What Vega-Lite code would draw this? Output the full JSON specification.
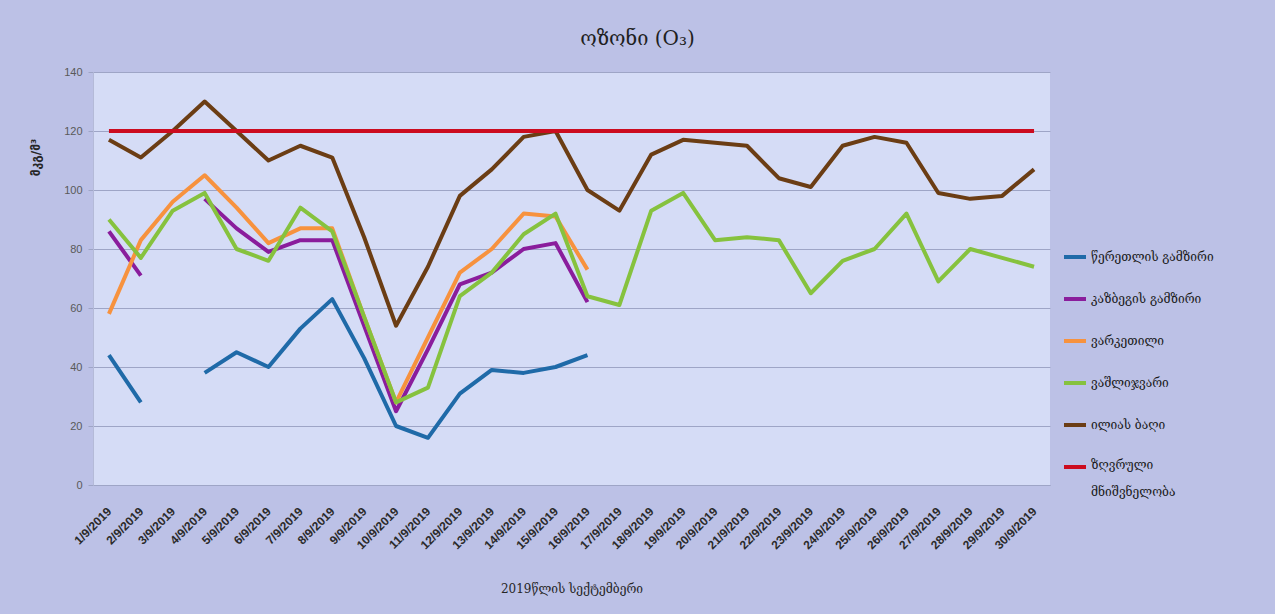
{
  "$schema": "https://vega.github.io/schema/vega-lite/v6.json",
  "width": 957,
  "height": 413,
  "autosize": {"type": "none"},
  "padding": {"left": 93, "top": 72, "right": 225, "bottom": 129},
  "background": "#bcc1e6",
  "title": {
    "text": "ოზონი (O₃)",
    "font": "DejaVu Serif",
    "fontSize": 20,
    "fontWeight": "normal",
    "color": "#1f1f1f",
    "anchor": "middle",
    "dx": 66,
    "offset": 17
  },
  "data": {
    "values": [
      {"date": "1/9/2019", "station": "წერეთლის გამზირი", "value": 44},
      {"date": "2/9/2019", "station": "წერეთლის გამზირი", "value": 28},
      {"date": "3/9/2019", "station": "წერეთლის გამზირი", "value": null},
      {"date": "4/9/2019", "station": "წერეთლის გამზირი", "value": 38},
      {"date": "5/9/2019", "station": "წერეთლის გამზირი", "value": 45},
      {"date": "6/9/2019", "station": "წერეთლის გამზირი", "value": 40},
      {"date": "7/9/2019", "station": "წერეთლის გამზირი", "value": 53},
      {"date": "8/9/2019", "station": "წერეთლის გამზირი", "value": 63},
      {"date": "9/9/2019", "station": "წერეთლის გამზირი", "value": 43},
      {"date": "10/9/2019", "station": "წერეთლის გამზირი", "value": 20},
      {"date": "11/9/2019", "station": "წერეთლის გამზირი", "value": 16},
      {"date": "12/9/2019", "station": "წერეთლის გამზირი", "value": 31},
      {"date": "13/9/2019", "station": "წერეთლის გამზირი", "value": 39},
      {"date": "14/9/2019", "station": "წერეთლის გამზირი", "value": 38},
      {"date": "15/9/2019", "station": "წერეთლის გამზირი", "value": 40},
      {"date": "16/9/2019", "station": "წერეთლის გამზირი", "value": 44},

      {"date": "1/9/2019", "station": "კაზბეგის გამზირი", "value": 86},
      {"date": "2/9/2019", "station": "კაზბეგის გამზირი", "value": 71},
      {"date": "3/9/2019", "station": "კაზბეგის გამზირი", "value": null},
      {"date": "4/9/2019", "station": "კაზბეგის გამზირი", "value": 97},
      {"date": "5/9/2019", "station": "კაზბეგის გამზირი", "value": 87},
      {"date": "6/9/2019", "station": "კაზბეგის გამზირი", "value": 79},
      {"date": "7/9/2019", "station": "კაზბეგის გამზირი", "value": 83},
      {"date": "8/9/2019", "station": "კაზბეგის გამზირი", "value": 83},
      {"date": "9/9/2019", "station": "კაზბეგის გამზირი", "value": 54},
      {"date": "10/9/2019", "station": "კაზბეგის გამზირი", "value": 25},
      {"date": "11/9/2019", "station": "კაზბეგის გამზირი", "value": 46},
      {"date": "12/9/2019", "station": "კაზბეგის გამზირი", "value": 68},
      {"date": "13/9/2019", "station": "კაზბეგის გამზირი", "value": 72},
      {"date": "14/9/2019", "station": "კაზბეგის გამზირი", "value": 80},
      {"date": "15/9/2019", "station": "კაზბეგის გამზირი", "value": 82},
      {"date": "16/9/2019", "station": "კაზბეგის გამზირი", "value": 62},

      {"date": "1/9/2019", "station": "ვარკეთილი", "value": 58},
      {"date": "2/9/2019", "station": "ვარკეთილი", "value": 83},
      {"date": "3/9/2019", "station": "ვარკეთილი", "value": 96},
      {"date": "4/9/2019", "station": "ვარკეთილი", "value": 105},
      {"date": "5/9/2019", "station": "ვარკეთილი", "value": 94},
      {"date": "6/9/2019", "station": "ვარკეთილი", "value": 82},
      {"date": "7/9/2019", "station": "ვარკეთილი", "value": 87},
      {"date": "8/9/2019", "station": "ვარკეთილი", "value": 87},
      {"date": "9/9/2019", "station": "ვარკეთილი", "value": 57},
      {"date": "10/9/2019", "station": "ვარკეთილი", "value": 28},
      {"date": "11/9/2019", "station": "ვარკეთილი", "value": 50},
      {"date": "12/9/2019", "station": "ვარკეთილი", "value": 72},
      {"date": "13/9/2019", "station": "ვარკეთილი", "value": 80},
      {"date": "14/9/2019", "station": "ვარკეთილი", "value": 92},
      {"date": "15/9/2019", "station": "ვარკეთილი", "value": 91},
      {"date": "16/9/2019", "station": "ვარკეთილი", "value": 73},

      {"date": "1/9/2019", "station": "ვაშლიჯვარი", "value": 90},
      {"date": "2/9/2019", "station": "ვაშლიჯვარი", "value": 77},
      {"date": "3/9/2019", "station": "ვაშლიჯვარი", "value": 93},
      {"date": "4/9/2019", "station": "ვაშლიჯვარი", "value": 99},
      {"date": "5/9/2019", "station": "ვაშლიჯვარი", "value": 80},
      {"date": "6/9/2019", "station": "ვაშლიჯვარი", "value": 76},
      {"date": "7/9/2019", "station": "ვაშლიჯვარი", "value": 94},
      {"date": "8/9/2019", "station": "ვაშლიჯვარი", "value": 86},
      {"date": "9/9/2019", "station": "ვაშლიჯვარი", "value": 57},
      {"date": "10/9/2019", "station": "ვაშლიჯვარი", "value": 28},
      {"date": "11/9/2019", "station": "ვაშლიჯვარი", "value": 33},
      {"date": "12/9/2019", "station": "ვაშლიჯვარი", "value": 64},
      {"date": "13/9/2019", "station": "ვაშლიჯვარი", "value": 72},
      {"date": "14/9/2019", "station": "ვაშლიჯვარი", "value": 85},
      {"date": "15/9/2019", "station": "ვაშლიჯვარი", "value": 92},
      {"date": "16/9/2019", "station": "ვაშლიჯვარი", "value": 64},
      {"date": "17/9/2019", "station": "ვაშლიჯვარი", "value": 61},
      {"date": "18/9/2019", "station": "ვაშლიჯვარი", "value": 93},
      {"date": "19/9/2019", "station": "ვაშლიჯვარი", "value": 99},
      {"date": "20/9/2019", "station": "ვაშლიჯვარი", "value": 83},
      {"date": "21/9/2019", "station": "ვაშლიჯვარი", "value": 84},
      {"date": "22/9/2019", "station": "ვაშლიჯვარი", "value": 83},
      {"date": "23/9/2019", "station": "ვაშლიჯვარი", "value": 65},
      {"date": "24/9/2019", "station": "ვაშლიჯვარი", "value": 76},
      {"date": "25/9/2019", "station": "ვაშლიჯვარი", "value": 80},
      {"date": "26/9/2019", "station": "ვაშლიჯვარი", "value": 92},
      {"date": "27/9/2019", "station": "ვაშლიჯვარი", "value": 69},
      {"date": "28/9/2019", "station": "ვაშლიჯვარი", "value": 80},
      {"date": "29/9/2019", "station": "ვაშლიჯვარი", "value": 77},
      {"date": "30/9/2019", "station": "ვაშლიჯვარი", "value": 74},

      {"date": "1/9/2019", "station": "ილიას ბაღი", "value": 117},
      {"date": "2/9/2019", "station": "ილიას ბაღი", "value": 111},
      {"date": "3/9/2019", "station": "ილიას ბაღი", "value": 120},
      {"date": "4/9/2019", "station": "ილიას ბაღი", "value": 130},
      {"date": "5/9/2019", "station": "ილიას ბაღი", "value": 120},
      {"date": "6/9/2019", "station": "ილიას ბაღი", "value": 110},
      {"date": "7/9/2019", "station": "ილიას ბაღი", "value": 115},
      {"date": "8/9/2019", "station": "ილიას ბაღი", "value": 111},
      {"date": "9/9/2019", "station": "ილიას ბაღი", "value": 84},
      {"date": "10/9/2019", "station": "ილიას ბაღი", "value": 54},
      {"date": "11/9/2019", "station": "ილიას ბაღი", "value": 74},
      {"date": "12/9/2019", "station": "ილიას ბაღი", "value": 98},
      {"date": "13/9/2019", "station": "ილიას ბაღი", "value": 107},
      {"date": "14/9/2019", "station": "ილიას ბაღი", "value": 118},
      {"date": "15/9/2019", "station": "ილიას ბაღი", "value": 120},
      {"date": "16/9/2019", "station": "ილიას ბაღი", "value": 100},
      {"date": "17/9/2019", "station": "ილიას ბაღი", "value": 93},
      {"date": "18/9/2019", "station": "ილიას ბაღი", "value": 112},
      {"date": "19/9/2019", "station": "ილიას ბაღი", "value": 117},
      {"date": "20/9/2019", "station": "ილიას ბაღი", "value": 116},
      {"date": "21/9/2019", "station": "ილიას ბაღი", "value": 115},
      {"date": "22/9/2019", "station": "ილიას ბაღი", "value": 104},
      {"date": "23/9/2019", "station": "ილიას ბაღი", "value": 101},
      {"date": "24/9/2019", "station": "ილიას ბაღი", "value": 115},
      {"date": "25/9/2019", "station": "ილიას ბაღი", "value": 118},
      {"date": "26/9/2019", "station": "ილიას ბაღი", "value": 116},
      {"date": "27/9/2019", "station": "ილიას ბაღი", "value": 99},
      {"date": "28/9/2019", "station": "ილიას ბაღი", "value": 97},
      {"date": "29/9/2019", "station": "ილიას ბაღი", "value": 98},
      {"date": "30/9/2019", "station": "ილიას ბაღი", "value": 107},

      {"date": "1/9/2019", "station": "ზღვრული მნიშვნელობა", "value": 120},
      {"date": "2/9/2019", "station": "ზღვრული მნიშვნელობა", "value": 120},
      {"date": "3/9/2019", "station": "ზღვრული მნიშვნელობა", "value": 120},
      {"date": "4/9/2019", "station": "ზღვრული მნიშვნელობა", "value": 120},
      {"date": "5/9/2019", "station": "ზღვრული მნიშვნელობა", "value": 120},
      {"date": "6/9/2019", "station": "ზღვრული მნიშვნელობა", "value": 120},
      {"date": "7/9/2019", "station": "ზღვრული მნიშვნელობა", "value": 120},
      {"date": "8/9/2019", "station": "ზღვრული მნიშვნელობა", "value": 120},
      {"date": "9/9/2019", "station": "ზღვრული მნიშვნელობა", "value": 120},
      {"date": "10/9/2019", "station": "ზღვრული მნიშვნელობა", "value": 120},
      {"date": "11/9/2019", "station": "ზღვრული მნიშვნელობა", "value": 120},
      {"date": "12/9/2019", "station": "ზღვრული მნიშვნელობა", "value": 120},
      {"date": "13/9/2019", "station": "ზღვრული მნიშვნელობა", "value": 120},
      {"date": "14/9/2019", "station": "ზღვრული მნიშვნელობა", "value": 120},
      {"date": "15/9/2019", "station": "ზღვრული მნიშვნელობა", "value": 120},
      {"date": "16/9/2019", "station": "ზღვრული მნიშვნელობა", "value": 120},
      {"date": "17/9/2019", "station": "ზღვრული მნიშვნელობა", "value": 120},
      {"date": "18/9/2019", "station": "ზღვრული მნიშვნელობა", "value": 120},
      {"date": "19/9/2019", "station": "ზღვრული მნიშვნელობა", "value": 120},
      {"date": "20/9/2019", "station": "ზღვრული მნიშვნელობა", "value": 120},
      {"date": "21/9/2019", "station": "ზღვრული მნიშვნელობა", "value": 120},
      {"date": "22/9/2019", "station": "ზღვრული მნიშვნელობა", "value": 120},
      {"date": "23/9/2019", "station": "ზღვრული მნიშვნელობა", "value": 120},
      {"date": "24/9/2019", "station": "ზღვრული მნიშვნელობა", "value": 120},
      {"date": "25/9/2019", "station": "ზღვრული მნიშვნელობა", "value": 120},
      {"date": "26/9/2019", "station": "ზღვრული მნიშვნელობა", "value": 120},
      {"date": "27/9/2019", "station": "ზღვრული მნიშვნელობა", "value": 120},
      {"date": "28/9/2019", "station": "ზღვრული მნიშვნელობა", "value": 120},
      {"date": "29/9/2019", "station": "ზღვრული მნიშვნელობა", "value": 120},
      {"date": "30/9/2019", "station": "ზღვრული მნიშვნელობა", "value": 120}
    ]
  },
  "mark": {
    "type": "line",
    "invalid": "break-paths-filter-domains",
    "strokeJoin": "round",
    "strokeCap": "butt"
  },
  "encoding": {
    "x": {
      "field": "date",
      "type": "ordinal",
      "sort": null,
      "scale": {"type": "point", "padding": 0.5},
      "axis": {
        "title": "2019წლის სექტემბერი",
        "titleFont": "DejaVu Serif",
        "titleFontSize": 12,
        "titleFontWeight": "normal",
        "titleColor": "#262626",
        "titleY": 103,
        "titleBaseline": "middle",
        "labelAngle": -45,
        "labelAlign": "right",
        "labelBaseline": "middle",
        "labelFont": "Liberation Sans",
        "labelFontWeight": "bold",
        "labelFontSize": 12,
        "labelColor": "#2b2b2b",
        "labelPadding": 24,
        "ticks": false,
        "grid": false,
        "domainColor": "#9ea5c6",
        "domainWidth": 1
      }
    },
    "y": {
      "field": "value",
      "type": "quantitative",
      "scale": {"domain": [0, 140], "nice": false},
      "axis": {
        "title": "მკგ/მ³",
        "titleFont": "DejaVu Sans",
        "titleFontSize": 12,
        "titleFontWeight": "bold",
        "titleColor": "#262626",
        "titleX": -58,
        "titleY": 85,
        "titleBaseline": "middle",
        "titleAlign": "center",
        "values": [0, 20, 40, 60, 80, 100, 120, 140],
        "labelFont": "Liberation Sans",
        "labelFontSize": 11,
        "labelColor": "#595959",
        "labelPadding": 6,
        "tickSize": 5,
        "tickColor": "#9ea5c6",
        "gridColor": "#9ea5c6",
        "gridWidth": 1,
        "domainColor": "#b4bad8"
      }
    },
    "color": {
      "field": "station",
      "type": "nominal",
      "scale": {
        "domain": ["წერეთლის გამზირი", "კაზბეგის გამზირი", "ვარკეთილი", "ვაშლიჯვარი", "ილიას ბაღი", "ზღვრული მნიშვნელობა"],
        "range": ["#1f6aa8", "#8a1d9c", "#f7923e", "#86c23e", "#6b3d14", "#cc0c1f"]
      },
      "legend": {
        "orient": "none",
        "legendX": 969,
        "legendY": 172,
        "title": null,
        "symbolType": "stroke",
        "symbolStrokeWidth": 4,
        "symbolSize": 484,
        "labelFont": "DejaVu Serif",
        "labelFontSize": 12,
        "labelColor": "#1a1a1a",
        "labelOffset": 3,
        "labelLimit": 220,
        "rowPadding": 21,
        "labelExpr": "datum.label == 'ზღვრული მნიშვნელობა' ? ['ზღვრული', 'მნიშვნელობა'] : datum.label",
        "encode": {
          "labels": {
            "update": {
              "baseline": {"signal": "datum.label == 'ზღვრული მნიშვნელობა' ? 'top' : 'middle'"},
              "dy": {"signal": "datum.label == 'ზღვრული მნიშვნელობა' ? -7 : 0"},
              "lineHeight": {"value": 27}
            }
          }
        }
      }
    },
    "strokeWidth": {
      "field": "station",
      "type": "nominal",
      "scale": {
        "domain": ["წერეთლის გამზირი", "კაზბეგის გამზირი", "ვარკეთილი", "ვაშლიჯვარი", "ილიას ბაღი", "ზღვრული მნიშვნელობა"],
        "range": [4, 4, 4, 4, 4, 5]
      },
      "legend": null
    }
  },
  "config": {
    "view": {"fill": "#d5dcf6", "stroke": null}
  }
}
